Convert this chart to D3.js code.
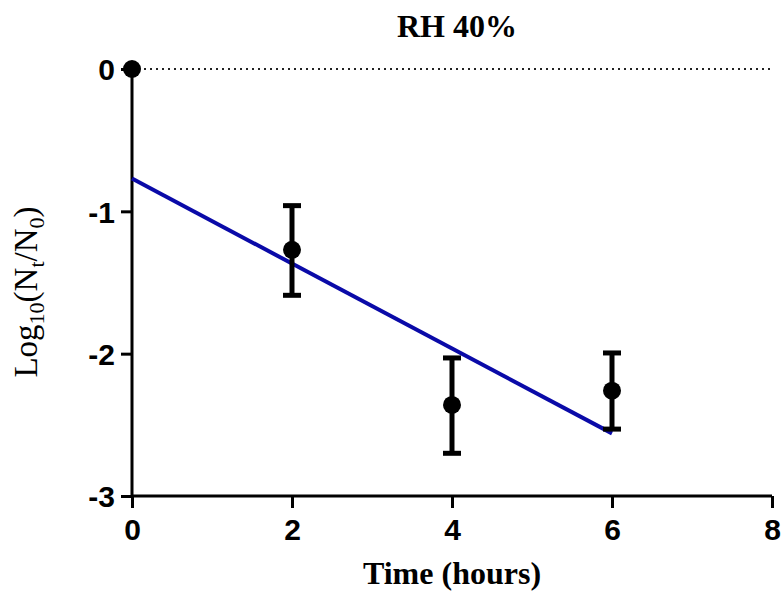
<!DOCTYPE html>
<html>
<head>
<meta charset="utf-8">
<script src="https://cdn.jsdelivr.net/npm/d3@7"></script>
<style>
  body { margin: 0; background: #fff; }
  .serif { font-family: "Liberation Serif", "Times New Roman", serif; fill: #000; }
</style>
</head>
<body>
<div class="graph"></div>
<script>
// measured points: time (hours), mean log10 reduction, error bar ends
var times = [0, 2, 4, 6]
var means = [0, -1.27, -2.36, -2.26]
var errTop = [null, -0.96, -2.03, -1.995]
var errBot = [null, -1.59, -2.70, -2.53]

// linear fit drawn between these ends
var fitX = [0, 6]
var fitY = [-0.77, -2.56]

var xTicks = [0, 2, 4, 6, 8]
var yTicks = [0, -1, -2, -3]

var points = times.map((t, i) => ({t, m: means[i], hi: errTop[i], lo: errBot[i]}))

var totalWidth = 782, totalHeight = 594
var margin = {left: 132, top: 69, right: 10, bottom: 98}
var width = totalWidth - margin.left - margin.right
var height = totalHeight - margin.top - margin.bottom

var svg = d3.select('.graph').append('svg')
  .attr('width', totalWidth)
  .attr('height', totalHeight)

var g = svg.append('g').attr('transform', `translate(${margin.left},${margin.top})`)

var x = d3.scaleLinear().domain([0, 8]).range([0, width])
var y = d3.scaleLinear().domain([-3, 0]).range([height, 0])

// dotted zero line
g.append('line')
  .attr('x1', x(0)).attr('x2', x(8))
  .attr('y1', y(0)).attr('y2', y(0))
  .attr('stroke', '#222')
  .attr('stroke-width', 2)
  .attr('stroke-dasharray', '2,4')

var xAxis = d3.axisBottom(x).tickValues(xTicks).tickFormat(d3.format('d')).tickSize(12).tickPadding(9)
var yAxis = d3.axisLeft(y).tickValues(yTicks).tickFormat(d => d == 0 ? '0' : '-' + Math.abs(d)).tickSize(11).tickPadding(6)

var xg = g.append('g').attr('transform', `translate(0,${height})`).call(xAxis)
var yg = g.append('g').call(yAxis)

;[xg, yg].forEach(sel => {
  sel.attr('font-family', '"Liberation Sans", Arial, sans-serif').attr('font-size', 30).attr('font-weight', 'bold')
  sel.select('.domain').attr('stroke', '#000').attr('stroke-width', 3)
    .attr('d', sel === xg ? `M0,0H${width}` : `M0,0V${height}`)
  sel.selectAll('.tick line').attr('stroke', '#000').attr('stroke-width', 3)
  sel.selectAll('.tick text').attr('fill', '#000')
})
xg.selectAll('.tick text').attr('dy', '0.78em')
yg.selectAll('.tick text').attr('dy', '0.36em')

// fit line
g.append('line')
  .attr('x1', x(fitX[0])).attr('y1', y(fitY[0]))
  .attr('x2', x(fitX[1])).attr('y2', y(fitY[1]))
  .attr('stroke', '#0a0aa8')
  .attr('stroke-width', 4)

// error bars
var bars = g.selectAll('g.err').data(points.filter(d => d.hi != null)).join('g').attr('class', 'err')
bars.append('line')
  .attr('x1', d => x(d.t)).attr('x2', d => x(d.t))
  .attr('y1', d => y(d.hi)).attr('y2', d => y(d.lo))
  .attr('stroke', '#000').attr('stroke-width', 5)
bars.selectAll('line.cap').data(d => [[d.t, d.hi], [d.t, d.lo]]).join('line').attr('class', 'cap')
  .attr('x1', d => x(d[0]) - 9).attr('x2', d => x(d[0]) + 9)
  .attr('y1', d => y(d[1])).attr('y2', d => y(d[1]))
  .attr('stroke', '#000').attr('stroke-width', 5)

g.selectAll('circle').data(points).join('circle')
  .attr('cx', d => x(d.t)).attr('cy', d => y(d.m))
  .attr('r', 9).attr('fill', '#000')

// title and labels
svg.append('text').attr('class', 'serif')
  .attr('x', 457).attr('y', 37)
  .attr('text-anchor', 'middle')
  .attr('font-weight', 'bold').attr('font-size', 32)
  .text('RH 40%')

svg.append('text').attr('class', 'serif')
  .attr('x', 452).attr('y', 584)
  .attr('text-anchor', 'middle')
  .attr('font-weight', 'bold').attr('font-size', 32)
  .text('Time (hours)')

var yl = svg.append('text').attr('class', 'serif')
  .attr('transform', 'translate(37,292) rotate(-90)')
  .attr('text-anchor', 'middle')
  .attr('font-size', 33)
yl.append('tspan').text('Log')
yl.append('tspan').attr('font-size', 22).attr('dy', 7).text('10')
yl.append('tspan').attr('dy', -7).text('(N')
yl.append('tspan').attr('font-size', 22).attr('dy', 7).text('t')
yl.append('tspan').attr('dy', -7).text('/N')
yl.append('tspan').attr('font-size', 22).attr('dy', 7).text('0')
yl.append('tspan').attr('dy', -7).text(')')
</script>
</body>
</html>
